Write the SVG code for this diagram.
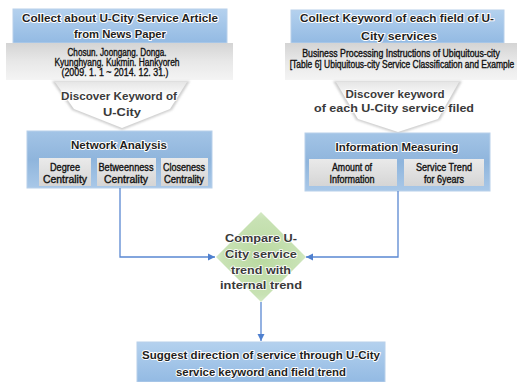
<svg xmlns="http://www.w3.org/2000/svg" width="517" height="382" viewBox="0 0 517 382">
<defs>
<linearGradient id="gBlue" x1="0" y1="0" x2="0" y2="1">
<stop offset="0" stop-color="#b4d1ee"/><stop offset="1" stop-color="#93bae3"/>
</linearGradient>
<linearGradient id="gBlue2" x1="0" y1="0" x2="0" y2="1">
<stop offset="0" stop-color="#a3c4e6"/><stop offset="0.5" stop-color="#8fb5dc"/><stop offset="1" stop-color="#a9c8e8"/>
</linearGradient>
<linearGradient id="gGray" x1="0" y1="0" x2="0" y2="1">
<stop offset="0" stop-color="#d4d4d4"/><stop offset="0.5" stop-color="#e8e8e8"/><stop offset="1" stop-color="#f4f4f4"/>
</linearGradient>
<linearGradient id="gSub" x1="0" y1="0" x2="0" y2="1">
<stop offset="0" stop-color="#eaeaea"/><stop offset="1" stop-color="#d5d5d5"/>
</linearGradient>
<radialGradient id="gGreen" cx="0.5" cy="0.5" r="0.6">
<stop offset="0" stop-color="#b9d9a0"/><stop offset="0.7" stop-color="#c8e2b4"/><stop offset="1" stop-color="#e4f1da"/>
</radialGradient>
<linearGradient id="gArrow" x1="0" y1="0" x2="0" y2="1">
<stop offset="0" stop-color="#e6e6e6"/><stop offset="0.35" stop-color="#ffffff"/><stop offset="1" stop-color="#ffffff"/>
</linearGradient>
<filter id="soft" x="-10%" y="-10%" width="120%" height="130%">
<feGaussianBlur stdDeviation="1.2"/>
</filter>
<marker id="ah" markerWidth="8" markerHeight="8" refX="7" refY="4" orient="auto" markerUnits="userSpaceOnUse">
<path d="M0,0.5 L7,4 L0,7.5 Z" fill="#4f80cf"/>
</marker>
</defs>
<style>
.t{font-family:"Liberation Sans",Arial,sans-serif;font-weight:bold;fill:#1e1e1e;stroke:#ffffff;stroke-width:2px;paint-order:stroke;stroke-linejoin:round;text-anchor:middle}
.n{font-family:"Liberation Sans",Arial,sans-serif;fill:#111;stroke:#111;stroke-width:0.35px;text-anchor:middle}
.a{font-family:"Liberation Sans",Arial,sans-serif;font-weight:bold;fill:#3a3a3a;stroke:#ffffff;stroke-width:1.5px;paint-order:stroke;text-anchor:middle}
.conn{fill:none;stroke:#5a88d2;stroke-width:1.3}
.bx{stroke:#b8d0ea;stroke-width:1}
</style>

<g id="collect-news">
<rect x="13" y="9" width="214" height="34" fill="url(#gBlue)" class="bx"/>
<rect x="6" y="43" width="227" height="37" fill="url(#gGray)"/>
<text class="t" font-size="11.5" x="120" y="22" textLength="196" lengthAdjust="spacingAndGlyphs">Collect about U-City Service Article</text>
<text class="t" font-size="11.5" x="120" y="38" textLength="92" lengthAdjust="spacingAndGlyphs">from News Paper</text>
<text class="n" font-size="10" x="117" y="56" textLength="99" lengthAdjust="spacingAndGlyphs">Chosun. Joongang. Donga.</text>
<text class="n" font-size="10" x="117" y="66" textLength="125" lengthAdjust="spacingAndGlyphs">Kyunghyang. Kukmin. Hankyoreh</text>
<text class="n" font-size="10" x="115" y="76" textLength="107" lengthAdjust="spacingAndGlyphs">(2009. 1. 1 ~ 2014. 12. 31.)</text>
</g>

<g id="collect-keyword">
<rect x="291" y="10" width="213" height="33" fill="url(#gBlue)" class="bx"/>
<rect x="285" y="43" width="232" height="37" fill="url(#gGray)"/>
<text class="t" font-size="11.5" x="397" y="22" textLength="194" lengthAdjust="spacingAndGlyphs">Collect Keyword of each field of U-</text>
<text class="t" font-size="11.5" x="399" y="40" textLength="76" lengthAdjust="spacingAndGlyphs">City services</text>
<text class="n" font-size="10" transform="translate(401,57) scale(0.74,1)" x="0" y="0" textLength="267" lengthAdjust="spacingAndGlyphs">Business Processing Instructions of Ubiquitous-city</text>
<text class="n" font-size="10" transform="translate(402,68) scale(0.72,1)" x="0" y="0" textLength="312" lengthAdjust="spacingAndGlyphs">[Table 6] Ubiquitous-city Service Classification and Example</text>
</g>

<g id="arrow-left">
<polygon points="52,81 190,81 172,110 122,130 72,110" fill="#cfcfcf" filter="url(#soft)"/>
<polygon points="55,82 187,82 170,109 122,128 74,109" fill="url(#gArrow)"/>
<text class="a" font-size="10.5" x="119" y="100" textLength="116" lengthAdjust="spacingAndGlyphs">Discover Keyword of</text>
<text class="a" font-size="10.5" x="122" y="116" textLength="38" lengthAdjust="spacingAndGlyphs">U-City</text>
</g>

<g id="arrow-right">
<polygon points="333,81 462,81 440,120 398,134 356,120" fill="#cfcfcf" filter="url(#soft)"/>
<polygon points="336,82 459,82 438,119 398,132 358,119" fill="url(#gArrow)"/>
<text class="a" font-size="10.5" x="395" y="98" textLength="99" lengthAdjust="spacingAndGlyphs">Discover keyword</text>
<text class="a" font-size="10.5" x="394" y="112" textLength="160" lengthAdjust="spacingAndGlyphs">of each U-City service filed</text>
</g>

<g id="network-analysis">
<rect x="27" y="131" width="185" height="57" fill="url(#gBlue2)" class="bx"/>
<text class="t" font-size="11.5" x="119" y="149" textLength="96" lengthAdjust="spacingAndGlyphs">Network Analysis</text>
<rect x="39" y="158" width="52" height="28" fill="url(#gSub)"/>
<rect x="97" y="158" width="59" height="28" fill="url(#gSub)"/>
<rect x="161" y="158" width="47" height="28" fill="url(#gSub)"/>
<text class="n" font-size="10" x="65" y="171" textLength="30" lengthAdjust="spacingAndGlyphs">Degree</text>
<text class="n" font-size="10" x="65" y="183" textLength="44" lengthAdjust="spacingAndGlyphs">Centrality</text>
<text class="n" font-size="10" x="126" y="171" textLength="55" lengthAdjust="spacingAndGlyphs">Betweenness</text>
<text class="n" font-size="10" x="126" y="183" textLength="44" lengthAdjust="spacingAndGlyphs">Centrality</text>
<text class="n" font-size="10" x="184" y="171" textLength="42" lengthAdjust="spacingAndGlyphs">Closeness</text>
<text class="n" font-size="10" x="184" y="183" textLength="40" lengthAdjust="spacingAndGlyphs">Centrality</text>
</g>

<g id="information-measuring">
<rect x="305" y="133" width="185" height="58" fill="url(#gBlue2)" class="bx"/>
<text class="t" font-size="11.5" x="397" y="151" textLength="123" lengthAdjust="spacingAndGlyphs">Information Measuring</text>
<rect x="309" y="159" width="88" height="27" fill="url(#gSub)"/>
<rect x="404" y="159" width="80" height="27" fill="url(#gSub)"/>
<text class="n" font-size="10" x="352" y="171" textLength="40" lengthAdjust="spacingAndGlyphs">Amount of</text>
<text class="n" font-size="10" x="352" y="183" textLength="45" lengthAdjust="spacingAndGlyphs">Information</text>
<text class="n" font-size="10" x="444" y="171" textLength="56" lengthAdjust="spacingAndGlyphs">Service Trend</text>
<text class="n" font-size="10" x="444" y="183" textLength="40" lengthAdjust="spacingAndGlyphs">for 6years</text>
</g>

<g id="compare">
<polygon points="261,212 306,257 261,302 216,257" fill="url(#gGreen)"/>
<text class="a" font-size="11.5" x="261" y="242" textLength="72" lengthAdjust="spacingAndGlyphs">Compare U-</text>
<text class="a" font-size="11.5" x="261" y="258" textLength="72" lengthAdjust="spacingAndGlyphs">City service</text>
<text class="a" font-size="11.5" x="261" y="274" textLength="60" lengthAdjust="spacingAndGlyphs">trend with</text>
<text class="a" font-size="11.5" x="261" y="289" textLength="82" lengthAdjust="spacingAndGlyphs">internal trend</text>
</g>

<g id="suggest">
<rect x="137" y="342" width="248" height="40" fill="url(#gBlue)" class="bx"/>
<text class="t" font-size="11.5" x="261" y="359" textLength="238" lengthAdjust="spacingAndGlyphs">Suggest direction of service through U-City</text>
<text class="t" font-size="11.5" x="261" y="376" textLength="170" lengthAdjust="spacingAndGlyphs">service keyword and field trend</text>
</g>

<g id="connectors">
<polyline class="conn" points="120,188 120,257 215,257" marker-end="url(#ah)"/>
<polyline class="conn" points="398,191 398,257 306,257" marker-end="url(#ah)"/>
<line class="conn" x1="261" y1="302" x2="261" y2="341" marker-end="url(#ah)"/>
</g>
</svg>
